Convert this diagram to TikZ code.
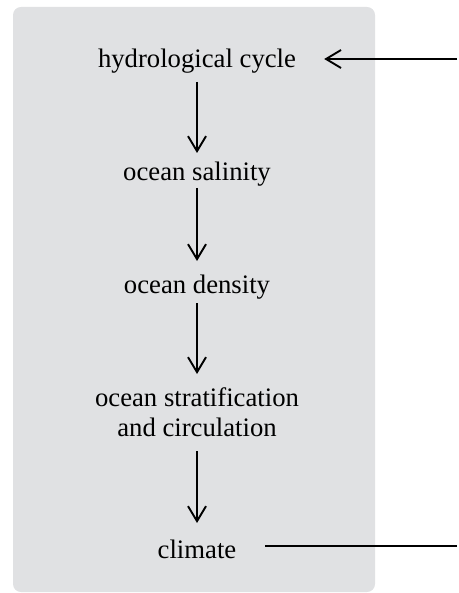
\documentclass[tikz,border=0pt]{standalone}
\usepackage{fontspec}
\setmainfont{Liberation Serif}
\usetikzlibrary{arrows.meta}
\definecolor{panelgray}{RGB}{224,225,227}
\begin{document}
\begin{tikzpicture}[x=1pt,y=1pt]
\tikzstyle{every node}+=[inner sep=0pt,anchor=base,font=\fontsize{26.7}{30}\selectfont,align=center]
\tikzstyle{flow}=[black,line width=1.9pt,-{Straight Barb[length=15pt,width=18pt,line width=1.9pt]}]
\useasboundingbox (0,0) rectangle (458,-593);
\fill [panelgray,rounded corners=8pt] (13,-7) rectangle (375,-592);
\node (hydro) at (197,-68) {hydrological cycle};
\node (salinity) at (197,-181) {ocean salinity};
\node (density) at (197,-293) {ocean density};
\node (strat) at (197,-436) {ocean stratification\\and circulation};
\node (climate) at (197,-558) {climate};
\coordinate (feedin) at (457,-59);
\coordinate (feedout) at (457,-546);
\draw [flow] ([yshift=-14pt]hydro.base) -- ([yshift=28pt]salinity.base);
\draw [flow] ([yshift=-7pt]salinity.base) -- ([yshift=32pt]density.base);
\draw [flow] ([yshift=-10pt]density.base) -- ([yshift=13pt]strat.north);
\draw [flow] ([yshift=-15pt]strat.south) -- ([yshift=35pt]climate.base);
\draw [flow] (feedin) -- ([xshift=28pt]hydro.east |- feedin);
\draw [black,line width=1.9pt] (feedout) -- ([xshift=29pt]climate.east |- feedout);
\end{tikzpicture}
\end{document}
